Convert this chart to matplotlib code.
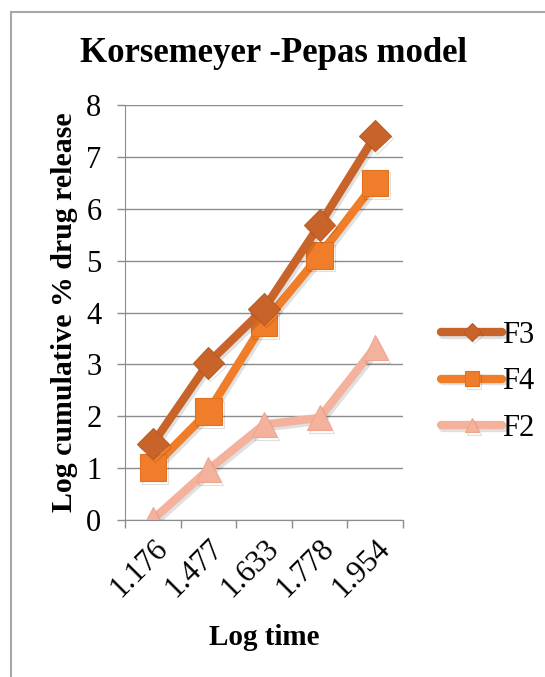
import matplotlib.pyplot as plt
import matplotlib.patheffects as pe
import numpy as np

plt.rcParams['font.family'] = ['Liberation Serif', 'DejaVu Serif']

log_time = ["1.176", "1.477", "1.633", "1.778", "1.954"]
f3 = [1.47, 3.03, 4.07, 5.69, 7.41]
f4 = [1.01, 2.09, 3.80, 5.10, 6.50]
f2 = [0.01, 0.97, 1.84, 1.97, 3.33]

fig = plt.figure(figsize=(5.45, 6.77), dpi=100)
W, H = 545, 677
ax = fig.add_axes([125 / W, 1 - 520 / H, (403 - 125) / W, (520 - 105) / H])

x = np.arange(len(log_time))
shadow = [pe.SimpleLineShadow(offset=(1.5, -2), shadow_color='k', alpha=0.12), pe.Normal()]

ax.plot(x, f3, color='#C8642A', lw=6, marker='D', ms=16, mec='#C05A22', mew=0.8,
        label='F3', solid_capstyle='round', path_effects=shadow, zorder=5)
ax.plot(x, f4, color='#F07D2A', lw=6, marker='s', ms=19, mec='#E2701E', mew=0.8,
        label='F4', solid_capstyle='round', path_effects=shadow, zorder=4)
ax.plot(x, f2, color='#F4B29D', lw=6, marker='^', ms=18, mec='#EFA68F', mew=0.8,
        label='F2', solid_capstyle='round', path_effects=shadow, zorder=3)

ax.set_xlim(-0.5, 4.5)
ax.set_ylim(0, 8)
ax.set_yticks(range(9))
ax.set_yticklabels([str(i) for i in range(9)], fontsize=22)
ax.yaxis.grid(True, color='#8c8c8c', lw=1)
ax.set_axisbelow(True)
ax.tick_params(axis='y', length=6, color='#8c8c8c', width=1, pad=11)

ax.set_xticks(x)
ax.set_xticklabels(log_time, rotation=45, ha='right', va='top', rotation_mode='anchor', fontsize=22)
ax.tick_params(axis='x', which='major', length=0, pad=10)
ax.set_xticks(np.arange(-0.5, 5, 1), minor=True)
ax.tick_params(axis='x', which='minor', length=6, color='#8c8c8c', width=1)

for s in ['top', 'right']:
    ax.spines[s].set_visible(False)
for s in ['left', 'bottom']:
    ax.spines[s].set_color('#8c8c8c')

ax.set_ylabel('Log cumulative % drug release', fontsize=21.5, fontweight='bold', labelpad=6)
ax.set_xlabel('Log time', fontsize=21, fontweight='bold', labelpad=15)

fig.text(0.5 * (85 + 462) / W, 1 - 54 / H, 'Korsemeyer -Pepas model', fontsize=25,
         fontweight='bold', ha='center', va='center')

ax.legend(loc='center left', bbox_to_anchor=(1.094, 0.333), frameon=False, fontsize=22,
          handlelength=2.0, handletextpad=0.0, labelspacing=0.58, borderaxespad=0,
          markerscale=0.55)

# chart frame
fig.add_artist(plt.Line2D([10.5 / W, 10.5 / W], [0, 1 - 11.5 / H], color='#a8a8a8', lw=1.5))
fig.add_artist(plt.Line2D([10.5 / W, 1], [1 - 11.5 / H, 1 - 11.5 / H], color='#a8a8a8', lw=1.5))

fig.savefig('out.png', dpi=100)
